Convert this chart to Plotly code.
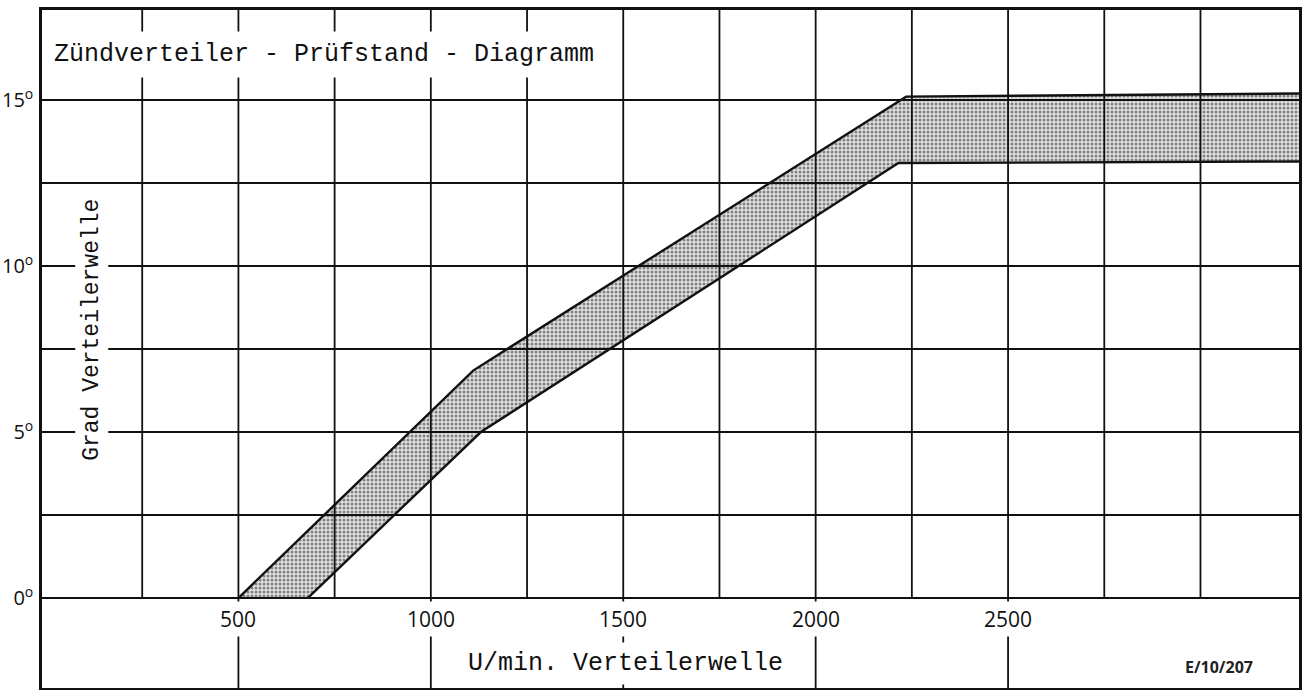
import plotly.graph_objects as go

# Advance curve band of the distributor (Verteilerwelle), degrees vs rpm
upper_rpm = [500, 1110, 2235, 3300]
upper_deg = [0.0, 6.85, 15.1, 15.2]
lower_rpm = [680, 1130, 2215, 3300]
lower_deg = [0.0, 5.0, 13.1, 13.15]

# Axis labelling and grid
x_tick_vals = [500, 1000, 1500, 2000, 2500]
y_tick_vals = [0, 5, 10, 15]
y_tick_text = ["0<sup>o</sup>", "5<sup>o</sup>", "10<sup>o</sup>", "15<sup>o</sup>"]
x_grid_vals = [250 * i for i in range(1, 13)]
y_grid_vals = [2.5 * i for i in range(0, 7)]

X_RANGE = [-10.4, 3256]
Y_RANGE = [-2.71, 17.71]

title_text = "Zündverteiler - Prüfstand - Diagramm"
x_title = "U/min. Verteilerwelle"
y_title = "Grad Verteilerwelle"
drawing_no = "E/10/207"

MONO = "Liberation Mono, Courier New, monospace"
SANS = "Open Sans, DejaVu Sans, sans-serif"
INK = "#111111"

fig = go.Figure()

# shaded tolerance band (closed polygon: upper edge, then lower edge reversed)
band_x = upper_rpm + lower_rpm[::-1]
band_y = upper_deg + lower_deg[::-1]
fig.add_trace(go.Scatter(
    x=band_x, y=band_y, mode="lines", fill="toself",
    line=dict(width=0, color="rgba(0,0,0,0)"),
    fillcolor="rgba(180,180,180,0.5)",
    fillpattern=dict(shape=".", fgcolor="#222222", bgcolor="rgba(200,200,200,0.55)",
                     size=4, solidity=0.45),
    hoverinfo="skip", showlegend=False,
))
for xs, ys in ((upper_rpm, upper_deg), (lower_rpm, lower_deg)):
    fig.add_trace(go.Scatter(x=xs, y=ys, mode="lines",
                             line=dict(color=INK, width=2.4),
                             hoverinfo="skip", showlegend=False))

shapes = []
# horizontal grid every 2.5 deg
for v in y_grid_vals:
    shapes.append(dict(type="line", xref="x", yref="y", x0=X_RANGE[0], x1=X_RANGE[1],
                       y0=v, y1=v, line=dict(color=INK, width=1.8), layer="above"))
# vertical grid: every 250 rpm above 0 deg, the 500-multiples run to the bottom edge
for v in x_grid_vals:
    y0 = Y_RANGE[0] if v in x_tick_vals else 0
    shapes.append(dict(type="line", xref="x", yref="y", x0=v, x1=v, y0=y0, y1=Y_RANGE[1],
                       line=dict(color=INK, width=1.8), layer="above"))

annotations = [
    dict(x=-2, y=16.36, xref="x", yref="y", text=title_text, showarrow=False,
         xanchor="left", yanchor="middle", bgcolor="white", borderpad=8,
         font=dict(family=MONO, size=25, color=INK)),
    dict(x=119, y=8.07, xref="x", yref="y", text=y_title, showarrow=False,
         textangle=-90, xanchor="center", yanchor="middle", bgcolor="white", borderpad=3,
         font=dict(family=MONO, size=23, color=INK)),
    dict(x=1505, y=-1.96, xref="x", yref="y", text=x_title, showarrow=False,
         xanchor="center", yanchor="middle", bgcolor="white", borderpad=6,
         font=dict(family=MONO, size=25, color=INK)),
    dict(x=3047, y=-2.08, xref="x", yref="y", text="<b>" + drawing_no + "</b>", showarrow=False,
         xanchor="center", yanchor="middle",
         font=dict(family=SANS, size=16, color="#222222")),
]
for v in x_tick_vals:
    annotations.append(dict(x=v, y=-0.63, xref="x", yref="y", text=str(v), showarrow=False,
                            xanchor="center", yanchor="middle", bgcolor="white", borderpad=3,
                            font=dict(family=SANS, size=21, color=INK)))

fig.update_layout(
    width=1304, height=690,
    margin=dict(l=40, r=3, t=10, b=2),
    paper_bgcolor="white", plot_bgcolor="white",
    shapes=shapes, annotations=annotations,
    xaxis=dict(range=X_RANGE, showgrid=False, zeroline=False, showticklabels=False,
               ticks="", showline=True, mirror=True, linecolor=INK, linewidth=2.5),
    yaxis=dict(range=Y_RANGE, tickmode="array", tickvals=y_tick_vals, ticktext=y_tick_text,
               showgrid=False, zeroline=False, ticks="",
               showline=True, mirror=True, linecolor=INK, linewidth=2.5,
               ticklabelstandoff=2,
               tickfont=dict(family=SANS, size=20, color=INK)),
)

fig.write_html("out.html")
